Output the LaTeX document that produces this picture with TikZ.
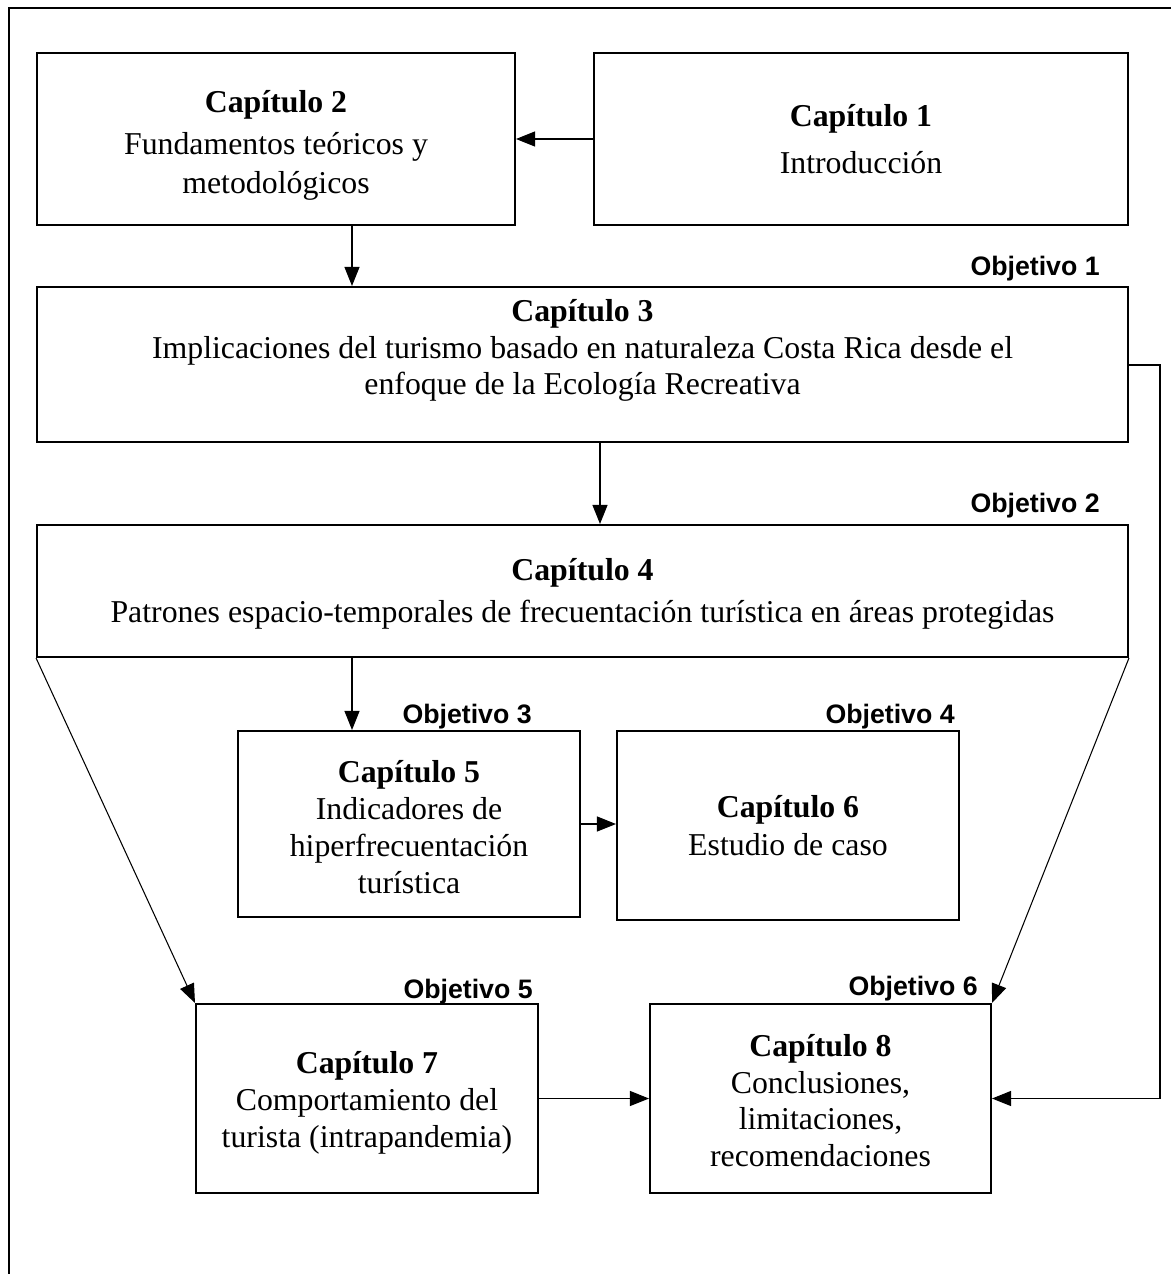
\documentclass[tikz,border=0pt]{standalone}
\usepackage{fontspec}
\setmainfont{Liberation Serif}
\newfontfamily\objfont{Liberation Sans}
\usepackage{tikz}
\usetikzlibrary{arrows.meta, positioning}

\tikzset{
  chapbox/.style={draw, line width=1.2pt, align=center, inner sep=2pt,
    font=\fontsize{18.1}{21}\selectfont},
  objlabel/.style={anchor=base east, inner sep=0pt,
    font=\objfont\bfseries\fontsize{15.2}{17}\selectfont},
  flow/.style={-{Triangle[length=0.38cm,width=0.3cm]}, line width=0.6pt},
}

\begin{document}
\begin{tikzpicture}[x=0.02cm, y=-0.02cm]
		\useasboundingbox (0,0) rectangle (1170,1274);
		\draw[line width=1.1pt] (9,8) rectangle (1200,1300);

		\node[chapbox, minimum width=10.68cm, minimum height=3.44cm] at (861,139) (cap1)
			{\textbf{Capítulo 1}\\[6pt] Introducción};
		\node[chapbox, minimum width=9.56cm, minimum height=3.44cm, text height=2.3cm] at (276,139) (cap2)
			{\textbf{Capítulo 2}\\[3pt] Fundamentos teóricos y\\[1pt] metodológicos};
		\node[chapbox, minimum width=21.82cm, minimum height=3.1cm, text depth=0.7cm] at (582.5,364.5) (cap3)
			{\textbf{Capítulo 3}\\ Implicaciones del turismo basado en naturaleza Costa Rica desde el\\ enfoque de la Ecología Recreativa};
		\node[chapbox, minimum width=21.82cm, minimum height=2.64cm, text height=1.41cm] at (582.5,591) (cap4)
			{\textbf{Capítulo 4}\\[3pt] Patrones espacio-temporales de frecuentación turística en áreas protegidas};
		\node[chapbox, minimum width=6.84cm, minimum height=3.72cm, text height=2.78cm] at (409,824) (cap5)
			{\textbf{Capítulo 5}\\ Indicadores de\\ hiperfrecuentación\\ turística};
		\node[chapbox, minimum width=6.84cm, minimum height=3.78cm] at (788,825.5) (cap6)
			{\textbf{Capítulo 6}\\[1pt] Estudio de caso};
		\node[chapbox, minimum width=6.84cm, minimum height=3.78cm, text height=2.08cm] at (367,1098.5) (cap7)
			{\textbf{Capítulo 7}\\ Comportamiento del\\ turista (intrapandemia)};
		\node[chapbox, minimum width=6.82cm, minimum height=3.78cm, text height=2.74cm] at (820.5,1098.5) (cap8)
			{\textbf{Capítulo 8}\\ Conclusiones,\\ limitaciones,\\ recomendaciones};

		% objetivos
		\node[objlabel] at (1100,275) (obj1) {Objetivo 1};
		\node[objlabel] at (1100,512) (obj2) {Objetivo 2};
		\node[objlabel] at (532,723) (obj3) {Objetivo 3};
		\node[objlabel] at (955,723) (obj4) {Objetivo 4};
		\node[objlabel] at (533,998) (obj5) {Objetivo 5};
		\node[objlabel] at (978,995) (obj6) {Objetivo 6};

		% connectors
		\coordinate (c3in) at ([xshift=1.52cm]cap2.south);
		\coordinate (c4in) at ([xshift=0.35cm]cap3.south);
		\coordinate (c5in) at ([xshift=-1.14cm]cap5.north);
		\coordinate (loop) at (1160,365);

		\draw[flow] (cap1.west) -- (cap2.east);
		\draw[flow] (c3in) -- (c3in |- cap3.north);
		\draw[flow] (c4in) -- (c4in |- cap4.north);
		\draw[flow] (cap4.south -| c5in) -- (c5in);
		\draw[flow] (cap5.east) -- (cap5.east -| cap6.west);
		\draw[flow] (cap4.south west) -- (cap7.north west);
		\draw[flow] (cap4.south east) -- (cap8.north east);
		\draw[flow] (cap7.east) -- (cap8.west);
		\draw[flow] (cap3.east |- loop) -- (loop) |- (cap8.east);
	\end{tikzpicture}
\end{document}
